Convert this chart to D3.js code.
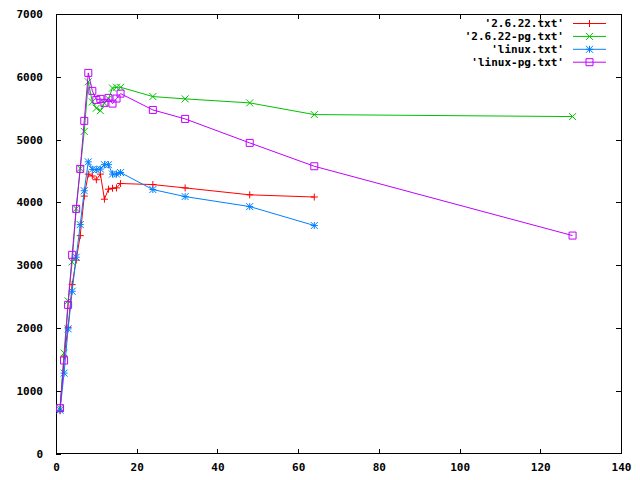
<!DOCTYPE html>
<html><head><meta charset="utf-8">
<script src="https://cdn.jsdelivr.net/npm/d3@7"></script>
<style>
body{margin:0;background:#fff;}
svg{display:block;}
text{font-family:"DejaVu Sans Mono",monospace;font-weight:bold;font-size:11px;fill:#000;}
</style></head>
<body><svg id="c" width="640" height="480"></svg>
<script>
const xs1 = [1,2,3,4,5,6,7,8,9,10,11,12,13,14,15,16,24,32,48,64];
const xs2 = [1,2,3,4,5,6,7,8,9,10,11,12,13,14,15,16,24,32,48,64,128];
const s2622 = [680,1550,2010,2690,3080,3470,4100,4450,4420,4360,4450,4050,4210,4225,4230,4300,4283,4230,4120,4085];
const s2622pg = [720,1600,2430,3050,3900,4540,5130,5920,5600,5500,5460,5580,5650,5820,5833,5833,5685,5648,5584,5398,5366];
const sLinux = [690,1280,1985,2584,3126,3646,4185,4645,4525,4520,4530,4600,4600,4450,4450,4475,4204,4092,3933,3631];
const sLinuxPg = [722,1481,2367,3164,3896,4533,5298,6062,5776,5632,5648,5585,5664,5573,5653,5732,5472,5329,4947,4575,3471];
const names = ["'2.6.22.txt'","'2.6.22-pg.txt'","'linux.txt'","'linux-pg.txt'"];
const colors = ["#ff0000","#00c000","#0080ff","#c000ff"];
const markers = ["plus","cross","star","square"];
const xTicks = [0,20,40,60,80,100,120,140];
const yTicks = [0,1000,2000,3000,4000,5000,6000,7000];

const series = [
  {x:xs1,y:s2622},{x:xs2,y:s2622pg},{x:xs1,y:sLinux},{x:xs2,y:sLinuxPg}
];

const L=56,R=621,T=14,B=453.5;
const svg=d3.select("#c");
const x=d3.scaleLinear().domain([0,140]).range([L,R]);
const y=d3.scaleLinear().domain([0,7000]).range([B,T]);

// axes
const ax=svg.append("g").attr("shape-rendering","crispEdges");
ax.append("g").attr("transform",`translate(0,${B})`)
  .call(d3.axisBottom(x).tickValues(xTicks).tickSize(-5).tickPadding(10).tickFormat(d3.format("d")))
  .call(g=>{g.select(".domain").remove();g.selectAll("text").attr("dy","0.71em");});
ax.append("g").attr("transform",`translate(0,${T})`)
  .call(d3.axisTop(x).tickValues(xTicks.slice(1,-1)).tickSize(-5).tickFormat(""))
  .call(g=>g.select(".domain").remove());
ax.append("g").attr("transform",`translate(${L},0)`)
  .call(d3.axisLeft(y).tickValues(yTicks).tickSize(-5).tickPadding(13).tickFormat(d3.format("d")))
  .call(g=>g.select(".domain").remove());
ax.append("g").attr("transform",`translate(${R},0)`)
  .call(d3.axisRight(y).tickValues(yTicks.slice(1,-1)).tickSize(-5).tickFormat(""))
  .call(g=>g.select(".domain").remove());
ax.append("rect").attr("x",L).attr("y",T).attr("width",R-L).attr("height",B-T)
  .attr("fill","none").attr("stroke","#000");
svg.selectAll(".tick text").style("font-family","DejaVu Sans Mono").style("font-weight","bold").style("font-size","11px");

function marker(g,type,cx,cy,col){
  const s=3.5;
  let p="";
  if(type==="plus"||type==="star") p+=`M${cx-s},${cy}H${cx+s}M${cx},${cy-s}V${cy+s}`;
  if(type==="cross"||type==="star") p+=`M${cx-s},${cy-s}L${cx+s},${cy+s}M${cx-s},${cy+s}L${cx+s},${cy-s}`;
  if(type==="square") p+=`M${cx-s},${cy-s}H${cx+s}V${cy+s}H${cx-s}Z`;
  g.append("path").attr("d",p).attr("fill","none").attr("stroke",col).attr("stroke-width",1);
}

const line=d3.line().x(d=>x(d[0])).y(d=>y(d[1]));
series.forEach((s,i)=>{
  const pts=s.x.map((v,j)=>[v,s.y[j]]);
  const g=svg.append("g");
  g.append("path").datum(pts).attr("d",line).attr("fill","none").attr("stroke",colors[i]).attr("stroke-width",1);
  pts.forEach(p=>marker(g,markers[i],x(p[0]),y(p[1]),colors[i]));
});

// legend
const lg=svg.append("g");
names.forEach((n,i)=>{
  const yy=23.5+i*12.9;
  lg.append("text").attr("x",564).attr("y",yy).attr("dy","0.35em").attr("text-anchor","end").text(n);
  lg.append("line").attr("x1",573).attr("x2",606).attr("y1",yy).attr("y2",yy).attr("stroke",colors[i]);
  marker(lg,markers[i],589.5,yy,colors[i]);
});
</script></body></html>
